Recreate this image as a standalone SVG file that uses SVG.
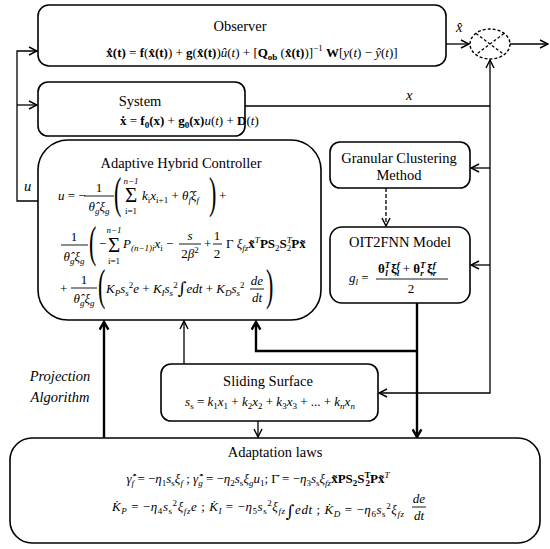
<svg xmlns="http://www.w3.org/2000/svg" width="550" height="549" viewBox="0 0 550 549" font-family="'Liberation Serif', serif">
<style>
.box{fill:#fff;stroke:#000;stroke-width:1.6}
.ln{fill:none;stroke:#000;stroke-width:1.3}
.thk{fill:none;stroke:#000;stroke-width:2.4}
.bar{stroke:#000;stroke-width:0.9}
.t{font-family:'Liberation Serif',serif;font-size:14.5px;fill:#000}
.m{font-family:'Liberation Serif',serif;font-size:13px;fill:#000}
.i{font-style:italic}
.n{font-style:normal}
.b{font-weight:bold}
.s{font-size:9px}
.big{font-family:'Liberation Serif',serif;font-size:44px}
.sig{font-family:'Liberation Serif',serif;font-size:21px}
</style>
<defs>
<marker id="a" viewBox="0 0 10 10" refX="9" refY="5" markerWidth="10" markerHeight="10" markerUnits="userSpaceOnUse" orient="auto"><path d="M1,1 L9,5 L1,9" fill="none" stroke="#000" stroke-width="1.4"/></marker>
<marker id="at" viewBox="0 0 10 10" refX="8.5" refY="5" markerWidth="11" markerHeight="11" markerUnits="userSpaceOnUse" orient="auto"><path d="M1.5,1 L8.5,5 L1.5,9" fill="none" stroke="#000" stroke-width="2.2"/></marker>
</defs>

<g id="connectors">
<path class="ln" d="M38,201 H17 V51 H37" marker-end="url(#a)"/>
<path class="ln" d="M17,105 H37" marker-end="url(#a)"/>
<path class="ln" d="M446,44 H469" marker-end="url(#a)"/>
<path class="ln" d="M510,44 H548" marker-end="url(#a)"/>
<path class="ln" d="M245,106 H490"/>
<path class="ln" d="M490,106 V60" marker-end="url(#a)"/>
<path class="ln" d="M490,106 V393 H379" marker-end="url(#a)"/>
<path class="ln" d="M490,168 H471" marker-end="url(#a)"/>
<path class="ln" d="M490,265 H471" marker-end="url(#a)"/>
<path class="ln" d="M386,188 V226" stroke-dasharray="4,2" marker-end="url(#a)"/>
<path class="thk" d="M417,303 V437" marker-end="url(#at)"/>
<path class="thk" d="M417,351 H256 V322" marker-end="url(#at)"/>
<path class="ln" d="M184,364 V321" marker-end="url(#a)"/>
<path class="thk" d="M104,438 V322" marker-end="url(#at)"/>
<path class="ln" d="M258,421 V437" marker-end="url(#a)"/>
<text class="t i" x="456" y="32">x̂</text>
<text class="t i" x="406" y="100">x</text>
<text class="t i" x="24" y="191">u</text>
<text class="t i" x="60" y="381" text-anchor="middle" font-size="13.5">Projection</text>
<text class="t i" x="60" y="402" text-anchor="middle" font-size="13.5">Algorithm</text>
</g>

<g id="sum">
<ellipse cx="490" cy="44" rx="20" ry="15" fill="#fff" stroke="#000" stroke-width="1.4" stroke-dasharray="3,2"/>
<path d="M476,33.4 L504,54.6 M504,33.4 L476,54.6" stroke="#000" stroke-width="1.2" stroke-dasharray="3,2"/>
</g>

<g id="observer">
<rect class="box" x="38" y="5" width="408" height="61" rx="11"/>
<text class="t" x="240" y="31" text-anchor="middle">Observer</text>
<text class="m" x="252" y="57" text-anchor="middle"><tspan class="b">x̂̇(t)</tspan> = <tspan class="b">f</tspan>(<tspan class="b">x̂(t)</tspan>) + <tspan class="b">g</tspan>(<tspan class="b">x̂(t)</tspan>)<tspan class="i">û</tspan>(<tspan class="i">t</tspan>) + [<tspan class="b">Q</tspan><tspan class="b s" dy="3">ob</tspan><tspan dy="-3"> (</tspan><tspan class="b">x̂(t)</tspan>)]<tspan class="s" dy="-6">−1</tspan><tspan dy="6"> </tspan><tspan class="b">W</tspan>[<tspan class="i">y</tspan>(<tspan class="i">t</tspan>) − <tspan class="i">ŷ</tspan>(<tspan class="i">t</tspan>)]</text>
</g>

<g id="system">
<rect class="box" x="38" y="82" width="207" height="54" rx="10"/>
<text class="t" x="140" y="106" text-anchor="middle">System</text>
<text class="m" x="120" y="125"><tspan class="b">ẋ</tspan> = <tspan class="b">f</tspan><tspan class="b s" dy="3">0</tspan><tspan dy="-3" class="b">(x)</tspan> + <tspan class="b">g</tspan><tspan class="b s" dy="3">0</tspan><tspan dy="-3" class="b">(x)</tspan><tspan class="i">u</tspan>(<tspan class="i">t</tspan>) + <tspan class="b">D</tspan>(<tspan class="i">t</tspan>)</text>
</g>

<g id="controller">
<rect class="box" x="38" y="140" width="283" height="180" rx="30"/>
<text class="t" x="181" y="168" text-anchor="middle">Adaptive Hybrid Controller</text>
<!-- line 1 -->
<text class="m" x="58" y="200"><tspan class="i">u</tspan> = −</text>
<text class="m" x="99" y="192" text-anchor="middle">1</text>
<line class="bar" x1="84" y1="196" x2="114" y2="196"/>
<text class="m i" x="99" y="211" text-anchor="middle">θ̂<tspan class="s" dy="3">g</tspan><tspan dy="-3">ξ</tspan><tspan class="s" dy="3">g</tspan></text>
<text class="big" transform="translate(114,208) scale(0.5,1)">(</text>
<text class="sig" x="131" y="202" text-anchor="middle">Σ</text>
<text class="m i s" x="131" y="184" text-anchor="middle">n−1</text>
<text class="m s" x="131" y="214" text-anchor="middle">i=1</text>
<text class="m i" x="142" y="200">k<tspan class="s n" dy="3">i</tspan><tspan dy="-3">x</tspan><tspan class="s n" dy="3">i+1</tspan><tspan dy="-3" class="n"> + </tspan>θ̂<tspan class="s" dy="3">f</tspan><tspan dy="-3">ξ</tspan><tspan class="s" dy="3">f</tspan></text>
<text class="big" transform="translate(209,208) scale(0.5,1)">)</text>
<text class="m" x="219" y="200">+</text>
<!-- line 2 -->
<text class="m" x="74" y="241" text-anchor="middle">1</text>
<line class="bar" x1="61" y1="245" x2="88" y2="245"/>
<text class="m i" x="74" y="261" text-anchor="middle">θ̂<tspan class="s" dy="3">g</tspan><tspan dy="-3">ξ</tspan><tspan class="s" dy="3">g</tspan></text>
<text class="big" transform="translate(89,257) scale(0.5,1)">(</text>
<text class="m" x="99" y="248">−</text>
<text class="sig" x="114" y="252" text-anchor="middle">Σ</text>
<text class="m i s" x="114" y="233" text-anchor="middle">n−1</text>
<text class="m s" x="114" y="264" text-anchor="middle">i=1</text>
<text class="m i" x="123" y="248">P<tspan class="s" dy="3">(n−1)i</tspan><tspan dy="-3">x</tspan><tspan class="s n" dy="3">i</tspan><tspan dy="-3" class="n"> − </tspan></text>
<text class="m i" x="190" y="240" text-anchor="middle">s</text>
<line class="bar" x1="179" y1="244" x2="201" y2="244"/>
<text class="m" x="190" y="258" text-anchor="middle">2<tspan class="i">β</tspan><tspan class="s" dy="-5">2</tspan></text>
<text class="m" x="204" y="248">+</text>
<text class="m" x="217" y="240" text-anchor="middle">1</text>
<line class="bar" x1="213" y1="244" x2="222" y2="244"/>
<text class="m" x="217" y="258" text-anchor="middle">2</text>
<text class="m" x="226" y="248">Γ <tspan class="i">ξ</tspan><tspan class="s i" dy="3">fz</tspan><tspan dy="-3" class="b">x̃</tspan><tspan class="s i" dy="-5">T</tspan><tspan dy="5" class="b">PS</tspan><tspan class="s" dy="3">2</tspan><tspan dy="-3" class="b">S</tspan><tspan class="s i" dy="-5">T</tspan><tspan class="s" dx="-5" dy="8">2</tspan><tspan dy="-3" class="b">Px̃</tspan></text>
<!-- line 3 -->
<text class="m" x="60" y="293">+</text>
<text class="m" x="84" y="284" text-anchor="middle">1</text>
<line class="bar" x1="71" y1="288" x2="97" y2="288"/>
<text class="m i" x="84" y="303" text-anchor="middle">θ̂<tspan class="s" dy="3">g</tspan><tspan dy="-3">ξ</tspan><tspan class="s" dy="3">g</tspan></text>
<text class="big" transform="translate(98,300) scale(0.5,1)">(</text>
<text class="m i" x="106" y="293">K<tspan class="s" dy="3">P</tspan><tspan dy="-3">s</tspan><tspan class="s" dy="3">s</tspan><tspan class="s n" dy="-8">2</tspan><tspan dy="5">e</tspan><tspan class="n"> + </tspan>K<tspan class="s" dy="3">I</tspan><tspan dy="-3">s</tspan><tspan class="s" dy="3">s</tspan><tspan class="s n" dy="-8">2</tspan><tspan dy="6" class="n" font-family="DejaVu Serif" font-size="17">∫</tspan><tspan dy="-1">edt</tspan><tspan class="n"> + </tspan>K<tspan class="s" dy="3">D</tspan><tspan dy="-3">s</tspan><tspan class="s" dy="3">s</tspan><tspan class="s n" dy="-8">2</tspan></text>
<text class="m i" x="257" y="285" text-anchor="middle">de</text>
<line class="bar" x1="250" y1="289" x2="264" y2="289"/>
<text class="m i" x="257" y="302" text-anchor="middle">dt</text>
<text class="big" transform="translate(266,300) scale(0.5,1)">)</text>
</g>

<g id="granular">
<rect class="box" x="330" y="142" width="140" height="46" rx="10"/>
<text class="t" x="399" y="163" text-anchor="middle">Granular Clustering</text>
<text class="t" x="399" y="180" text-anchor="middle">Method</text>
</g>

<g id="oit2fnn">
<rect class="box" x="330" y="227" width="140" height="76" rx="12"/>
<text class="t" x="400" y="247" text-anchor="middle">OIT2FNN Model</text>
<text class="m i" x="349" y="282">g<tspan class="s" dy="3">l</tspan><tspan dy="-3" class="n"> =</tspan></text>
<text class="m b" x="378" y="273" font-size="14">θ<tspan class="s i" dy="-5">T</tspan><tspan class="s i" dx="-5" dy="8">l</tspan><tspan dy="-3"> ξ</tspan><tspan class="s i" dy="-5">f</tspan><tspan class="s i" dx="-3" dy="8">l</tspan><tspan dy="-3" class="n" font-weight="normal">  +  </tspan>θ<tspan class="s i" dy="-5">T</tspan><tspan class="s i" dx="-5" dy="8">r</tspan><tspan dy="-3"> ξ</tspan><tspan class="s i" dy="-5">f</tspan><tspan class="s i" dx="-3" dy="8">r</tspan></text>
<line class="bar" x1="376" y1="279" x2="448" y2="279"/>
<text class="m" x="411" y="293" text-anchor="middle">2</text>
</g>

<g id="sliding">
<rect class="box" x="161" y="364" width="217" height="57" rx="10"/>
<text class="t" x="268" y="386" text-anchor="middle">Sliding Surface</text>
<text class="m i" x="270" y="406" text-anchor="middle">s<tspan class="s n" dy="3">s</tspan><tspan dy="-3" class="n"> = </tspan>k<tspan class="s n" dy="3">1</tspan><tspan dy="-3">x</tspan><tspan class="s n" dy="3">1</tspan><tspan dy="-3" class="n"> + </tspan>k<tspan class="s n" dy="3">2</tspan><tspan dy="-3">x</tspan><tspan class="s n" dy="3">2</tspan><tspan dy="-3" class="n"> + </tspan>k<tspan class="s n" dy="3">3</tspan><tspan dy="-3">x</tspan><tspan class="s n" dy="3">3</tspan><tspan dy="-3" class="n"> + ... + </tspan>k<tspan class="s" dy="3">n</tspan><tspan dy="-3">x</tspan><tspan class="s" dy="3">n</tspan></text>
</g>

<g id="adaptation">
<rect class="box" x="10" y="438" width="530" height="105" rx="22"/>
<text class="t" x="275" y="457" text-anchor="middle">Adaptation laws</text>
<text class="m i" x="258" y="483" text-anchor="middle">γ̂̇<tspan class="s" dy="3">f</tspan><tspan dy="-3" class="n"> = −</tspan>η<tspan class="s n" dy="3">1</tspan><tspan dy="-3">s</tspan><tspan class="s n" dy="3">s</tspan><tspan dy="-3">ξ</tspan><tspan class="s" dy="3">f</tspan><tspan dy="-3" class="n"> ;  </tspan>γ̂̇<tspan class="s" dy="3">g</tspan><tspan dy="-3" class="n"> = −</tspan>η<tspan class="s n" dy="3">2</tspan><tspan dy="-3">s</tspan><tspan class="s n" dy="3">s</tspan><tspan dy="-3">ξ</tspan><tspan class="s" dy="3">g</tspan><tspan dy="-3">u</tspan><tspan class="s n" dy="3">1</tspan><tspan dy="-3" class="n">;  Γ̇ = −</tspan>η<tspan class="s n" dy="3">3</tspan><tspan dy="-3">s</tspan><tspan class="s n" dy="3">s</tspan><tspan dy="-3">ξ</tspan><tspan class="s" dy="3">fz</tspan><tspan dy="-3" class="b n">x̃PS</tspan><tspan class="s b n" dy="3">2</tspan><tspan dy="-3" class="b n">S</tspan><tspan class="s b n" dy="-5">T</tspan><tspan class="s b n" dx="-5" dy="8">2</tspan><tspan dy="-3" class="b n">Px̃</tspan><tspan class="s i" dy="-5">T</tspan></text>
<text class="m i" x="112" y="511" textLength="292" lengthAdjust="spacing">K̇<tspan class="s" dy="3">P</tspan><tspan dy="-3" class="n"> = −</tspan>η<tspan class="s n" dy="3">4</tspan><tspan dy="-3">s</tspan><tspan class="s n" dy="3">s</tspan><tspan class="s n" dy="-8">2</tspan><tspan dy="5">ξ</tspan><tspan class="s" dy="3">fz</tspan><tspan dy="-3">e</tspan><tspan class="n"> ;  </tspan>K̇<tspan class="s" dy="3">I</tspan><tspan dy="-3" class="n"> = −</tspan>η<tspan class="s n" dy="3">5</tspan><tspan dy="-3">s</tspan><tspan class="s n" dy="3">s</tspan><tspan class="s n" dy="-8">2</tspan><tspan dy="5">ξ</tspan><tspan class="s" dy="3">fz</tspan><tspan dy="3" class="n" font-family="DejaVu Serif" font-size="17">∫</tspan><tspan dy="-3">edt</tspan><tspan class="n"> ;  </tspan>K̇<tspan class="s" dy="3">D</tspan><tspan dy="-3" class="n"> = −</tspan>η<tspan class="s n" dy="3">6</tspan><tspan dy="-3">s</tspan><tspan class="s n" dy="3">s</tspan><tspan class="s n" dy="-8">2</tspan><tspan dy="5">ξ</tspan><tspan class="s" dy="3">fz</tspan></text>
<text class="m i" x="419" y="503" text-anchor="middle">de</text>
<line class="bar" x1="412" y1="507" x2="426" y2="507"/>
<text class="m i" x="419" y="520" text-anchor="middle">dt</text>
</g>
</svg>
